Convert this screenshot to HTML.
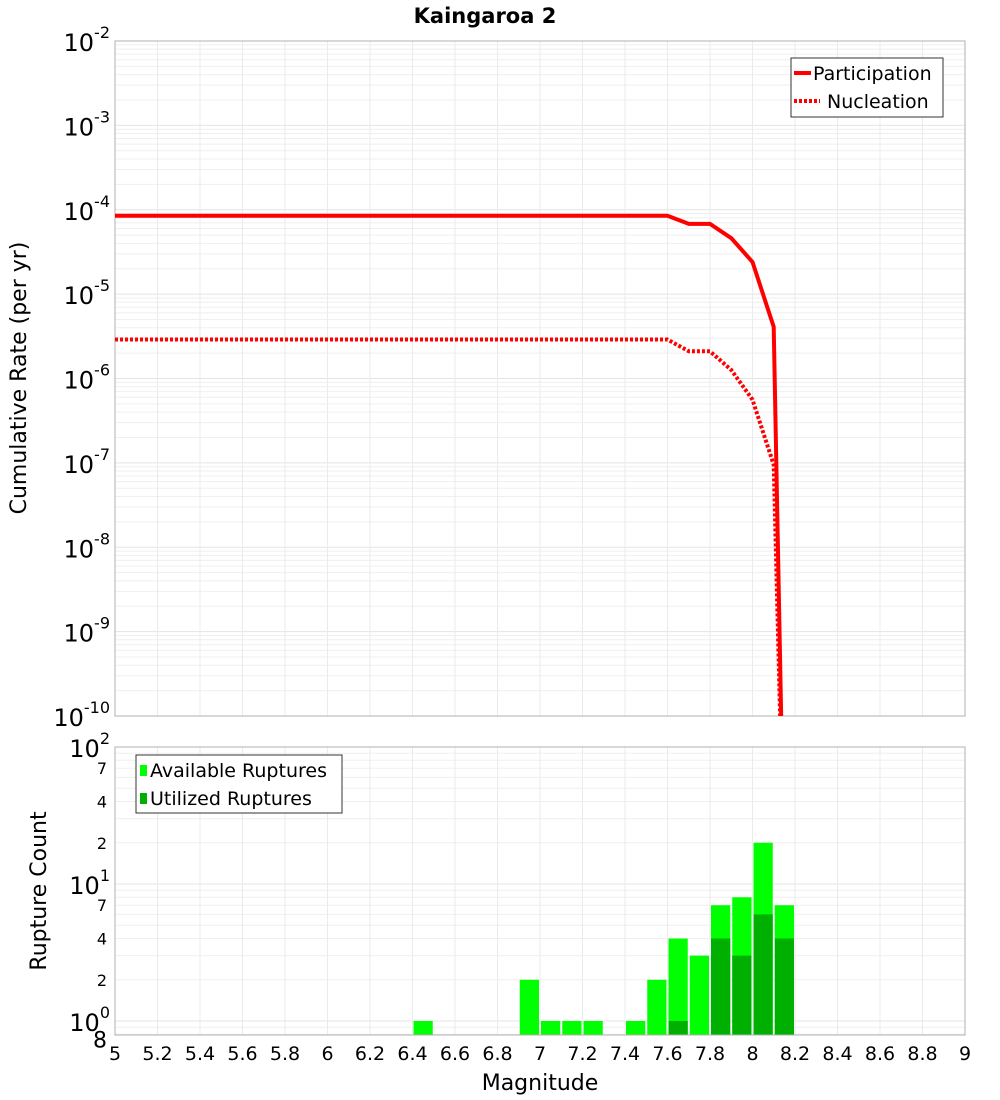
<!DOCTYPE html>
<html><head><meta charset="utf-8">
<style>
body{margin:0;background:#fff;font-family:"Liberation Sans","DejaVu Sans",sans-serif;}
svg{display:block}
</style></head>
<body>
<svg id="chart" width="1000" height="1100" xmlns="http://www.w3.org/2000/svg" font-family="DejaVu Sans, Liberation Sans, sans-serif">
<text x="485" y="23" font-size="21" font-weight="bold" text-anchor="middle">Kaingaroa 2</text>
<g id="topg"></g>
<g id="botg"></g>
<text transform="translate(26,378) rotate(-90)" font-size="22" text-anchor="middle">Cumulative Rate (per yr)</text>
<text transform="translate(46,891) rotate(-90)" font-size="22" text-anchor="middle">Rupture Count</text>
<text x="540" y="1090" font-size="22" text-anchor="middle">Magnitude</text>
</svg>
<script>
const partMags=[5,7.6,7.7,7.8,7.9,8.0,8.1,8.15];
const partRates=[8.5e-5,8.5e-5,6.8e-5,6.8e-5,4.6e-5,2.4e-5,4.1e-6,1e-12];
const nuclMags=[5,7.6,7.7,7.8,7.9,8.0,8.1,8.15];
const nuclRates=[2.9e-6,2.9e-6,2.1e-6,2.1e-6,1.26e-6,5.6e-7,9.5e-8,1e-12];
const binStarts=[6.4,6.9,7.0,7.1,7.2,7.4,7.5,7.6,7.7,7.8,7.9,8.0,8.1];
const availCounts=[1,2,1,1,1,1,2,4,3,7,8,20,7];
const usedCounts=[0,0,0,0,0,0,0,1,0,4,3,6,4];
const xTicks=[5,5.2,5.4,5.6,5.8,6,6.2,6.4,6.6,6.8,7,7.2,7.4,7.6,7.8,8,8.2,8.4,8.6,8.8,9];
const topExps=[-2,-3,-4,-5,-6,-7,-8,-9,-10];

const NS="http://www.w3.org/2000/svg";
const L=115,R=965;
const x=m=>L+(m-5)/4*(R-L);
const T0=41,T1=716;
const yTop=v=>T0+(-2-Math.log10(v))/8*(T1-T0);
const B0=747,B1=1035;
const yBot=v=>1021-Math.log10(v)*137;
function mk(p,tag,a,txt){const e=document.createElementNS(NS,tag);for(const k in a)e.setAttribute(k,a[k]);if(txt!==undefined)e.textContent=txt;p.appendChild(e);return e;}
const gTopEl=document.getElementById('topg'),gBotEl=document.getElementById('botg');

for(let d=-10;d<-2;d++)for(let k=1;k<10;k++){const v=k*Math.pow(10,d);const yy=yTop(v);
 const g=mk(gTopEl,'line',{x1:L,x2:R,y1:yy,y2:yy,stroke:k==1?'#e4e4e4':'#efefef','stroke-width':1});
 
 }
xTicks.forEach(t=>{const g=mk(gTopEl,'line',{x1:x(t),x2:x(t),y1:T0,y2:T1,stroke:'#ebebeb'});
 
 });
const tf=mk(gTopEl,'rect',{x:L,y:T0,width:R-L,height:T1-T0,fill:'none',stroke:'#b0b0b0'});


topExps.forEach(e=>{const yy=yTop(Math.pow(10,e));
 const t=mk(gTopEl,'text',{x:110,y:yy+10,'font-size':24,'text-anchor':'end'});
 
 
 mk(t,'tspan',{},'10');mk(t,'tspan',{dy:-13,'font-size':16},String(e));});
const defs=mk(gTopEl,'defs',{});const cp=mk(defs,'clipPath',{id:'cpt'});mk(cp,'rect',{x:L,y:T0,width:R-L,height:T1-T0});
function line(ms,vs,dash,name){const pts=ms.map((m,i)=>x(m).toFixed(1)+','+yTop(vs[i]).toFixed(1)).join(' ');
 const p=mk(gTopEl,'polyline',{points:pts,fill:'none',stroke:'#ff0000','stroke-width':4,'clip-path':'url(#cpt)'});
 if(dash)p.setAttribute('stroke-dasharray','3,2');
 
 }
line(partMags,partRates,false,'participation-line');
line(nuclMags,nuclRates,true,'nucleation-line');
const lg=mk(gTopEl,'g',{});


mk(lg,'rect',{x:791,y:58,width:152,height:59,fill:'#fff',stroke:'#333'});
mk(lg,'line',{x1:794,x2:811,y1:73,y2:73,stroke:'#f00','stroke-width':4});
mk(lg,'text',{x:813,y:80,'font-size':19},'Participation');
mk(lg,'line',{x1:794,x2:820,y1:101,y2:101,stroke:'#f00','stroke-width':4,'stroke-dasharray':'3,2'});
mk(lg,'text',{x:827,y:108,'font-size':19},'Nucleation');

for(let d=-1;d<2;d++)for(let k=1;k<10;k++){const v=k*Math.pow(10,d);const yy=yBot(v);if(yy<B0||yy>B1)continue;
 const g=mk(gBotEl,'line',{x1:L,x2:R,y1:yy,y2:yy,stroke:k==1?'#e4e4e4':'#efefef'});
 
 }
xTicks.forEach(t=>{const g=mk(gBotEl,'line',{x1:x(t),x2:x(t),y1:B0,y2:B1,stroke:'#ebebeb'});
 
 });
binStarts.forEach((m,i)=>{const x0=x(m)+1,w=x(m+0.1)-x(m)-2;
 const yA=yBot(availCounts[i]);
 const b=mk(gBotEl,'rect',{x:x0,y:yA,width:w,height:B1-yA,fill:'#00ff00'});
 
 
 if(usedCounts[i]>0){const yU=yBot(usedCounts[i]);
  const u=mk(gBotEl,'rect',{x:x0,y:yU,width:w,height:B1-yU,fill:'#00b000'});
  
  }});
const bf=mk(gBotEl,'rect',{x:L,y:B0,width:R-L,height:B1-B0,fill:'none',stroke:'#b0b0b0'});


[[0,'0'],[1,'1'],[2,'2']].forEach(([e,s])=>{const yy=yBot(Math.pow(10,e));
 const t=mk(gBotEl,'text',{x:110,y:yy+10,'font-size':24,'text-anchor':'end'});
 
 
 mk(t,'tspan',{},'10');mk(t,'tspan',{dy:-13,'font-size':16},s);});
[[0.8,'8'],[2,'2'],[4,'4'],[7,'7'],[20,'2'],[40,'4'],[70,'7']].forEach(([v,s])=>{const yy=yBot(v);
 const t=mk(gBotEl,'text',{x:107,y:yy+(v==0.8?13:6),'font-size':v==0.8?22:16,'text-anchor':'end'},s);
 
 });
xTicks.forEach(t=>{const e=mk(gBotEl,'text',{x:x(t),y:1060,'font-size':19,'text-anchor':'middle'},String(t));
 
 });
const bl=mk(gBotEl,'g',{});


mk(bl,'rect',{x:136,y:755,width:206,height:58,fill:'#fff',stroke:'#333'});
mk(bl,'rect',{x:140,y:765,width:7,height:11,fill:'#00ff00'});
mk(bl,'text',{x:150,y:777,'font-size':19},'Available Ruptures');
mk(bl,'rect',{x:140,y:793,width:7,height:11,fill:'#00b000'});
mk(bl,'text',{x:150,y:805,'font-size':19},'Utilized Ruptures');
</script>
</body></html>
